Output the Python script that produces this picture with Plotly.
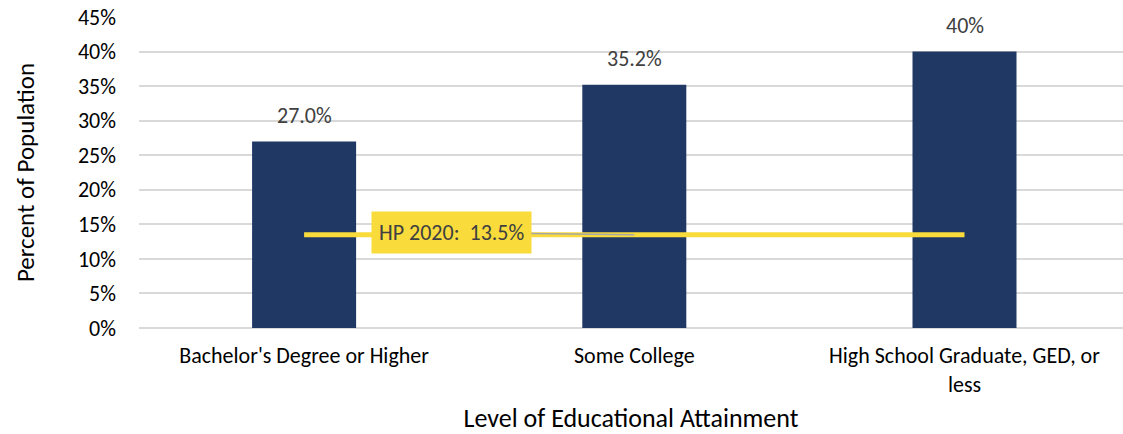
import plotly.graph_objects as go

categories = ["Bachelor's Degree or Higher", "Some College", "High School Graduate, GED, or<br>less"]
values = [0.270, 0.352, 0.40]
value_labels = ["27.0%", "35.2%", "40%"]
hp_target = 0.135
hp_label = "HP 2020:  13.5%"

FONT = "Carlito, Lato, sans-serif"

fig = go.Figure()
fig.add_trace(go.Bar(
    x=categories, y=values, width=0.315,
    marker=dict(color="#203864", line=dict(width=0)),
    hoverinfo="skip", showlegend=False,
))
fig.add_trace(go.Scatter(
    x=categories, y=[hp_target] * len(categories), mode="lines",
    line=dict(color="#F9DB3C", width=5), showlegend=False, hoverinfo="skip",
))

for c, v, t in zip(categories, values, value_labels):
    fig.add_annotation(x=c, y=v, text=t, showarrow=False, yshift=26,
                       font=dict(family=FONT, size=22, color="#404040"))

fig.add_annotation(
    x=categories[1], y=hp_target, text=hp_label,
    ax=-183, ay=-2, showarrow=True, arrowhead=0, arrowwidth=1.5,
    arrowcolor="#A6A6A6", bgcolor="#F9DB3C", borderpad=7,
    font=dict(family=FONT, size=22, color="#404040"),
)

fig.update_layout(
    width=1123, height=434,
    margin=dict(l=139, r=0, t=17, b=106),
    paper_bgcolor="white", plot_bgcolor="white",
    font=dict(family=FONT, color="#000000"),
    xaxis=dict(
        range=[-0.5, 2.48], showgrid=False, showline=False, ticks="",
        tickfont=dict(family=FONT, size=22, color="#000000"),
        ticklabelstandoff=12,
        title=dict(text="Level of Educational Attainment",
                   font=dict(family=FONT, size=26, color="#000000"), standoff=14),
    ),
    yaxis=dict(
        range=[0, 0.45], dtick=0.05, tickformat=".0%",
        showgrid=True, gridcolor="#D9D9D9", gridwidth=1.5,
        zeroline=True, zerolinecolor="#D9D9D9", zerolinewidth=1.5,
        tickfont=dict(family=FONT, size=22, color="#000000"),
        ticklabelstandoff=22,
        title=dict(text="Percent of Population",
                   font=dict(family=FONT, size=25, color="#000000"), standoff=36),
    ),
)

fig.write_html("out.html")
